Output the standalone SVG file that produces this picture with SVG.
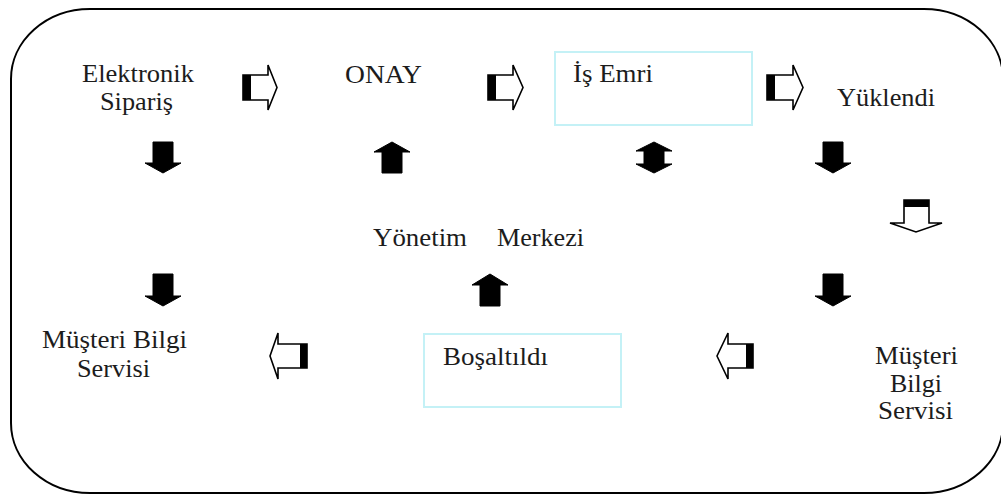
<svg xmlns="http://www.w3.org/2000/svg" width="1001" height="494" viewBox="0 0 1001 494">
<style>
.t{font-family:"Liberation Serif","Times New Roman",serif;font-size:25px;fill:#1c1c1c}
.box{fill:none;stroke:#c4f1f6;stroke-width:2}
.solid{fill:#000;stroke:#000;stroke-width:1}
.hollow{fill:#fff;stroke:#000;stroke-width:1.6;stroke-linejoin:miter}
.band{fill:#000}
</style>
<rect x="11" y="9" width="992" height="484" rx="79" ry="70" fill="#fff" stroke="#000" stroke-width="2"/>
<g id="n-elektronik"><text class="t" x="82" y="82" textLength="112" lengthAdjust="spacingAndGlyphs">Elektronik</text><text class="t" x="100" y="110" textLength="73" lengthAdjust="spacingAndGlyphs">Sipariş</text></g>
<g id="n-onay"><text class="t" x="345" y="83" textLength="77" lengthAdjust="spacingAndGlyphs">ONAY</text></g>
<g id="n-isemri"><rect class="box" x="555" y="52" width="197" height="73"/><text class="t" x="573" y="82" textLength="80" lengthAdjust="spacingAndGlyphs">İş Emri</text></g>
<g id="n-yuklendi"><text class="t" x="837" y="106" textLength="98" lengthAdjust="spacingAndGlyphs">Yüklendi</text></g>
<g id="n-yonetim"><text class="t" x="373" y="246" textLength="94" lengthAdjust="spacingAndGlyphs">Yönetim</text><text class="t" x="497" y="246" textLength="87" lengthAdjust="spacingAndGlyphs">Merkezi</text></g>
<g id="n-bosaltildi"><rect class="box" x="424" y="334" width="197" height="73"/><text class="t" x="443" y="365" textLength="105" lengthAdjust="spacingAndGlyphs">Boşaltıldı</text></g>
<g id="n-musteri-left"><text class="t" x="42" y="348" textLength="145" lengthAdjust="spacingAndGlyphs">Müşteri Bilgi</text><text class="t" x="77" y="377" textLength="73" lengthAdjust="spacingAndGlyphs">Servisi</text></g>
<g id="n-musteri-right"><text class="t" x="875" y="364" textLength="83" lengthAdjust="spacingAndGlyphs">Müşteri</text><text class="t" x="890" y="392" textLength="52" lengthAdjust="spacingAndGlyphs">Bilgi</text><text class="t" x="878" y="419" textLength="75" lengthAdjust="spacingAndGlyphs">Servisi</text></g>
<g id="connectors">
<path class="hollow" d="M243,75 H268 V65 L277,87.5 L268,110 V100 H243 Z"/><rect class="band" x="243" y="75" width="8" height="25"/>
<path class="hollow" d="M488,75 H513 V65 L523,87.5 L513,110 V100 H488 Z"/><rect class="band" x="488" y="75" width="8" height="25"/>
<path class="hollow" d="M767,75 H793 V65 L803,87.5 L793,110 V100 H767 Z"/><rect class="band" x="767" y="75" width="8" height="25"/>
<path class="solid" d="M153,142 H173 V163 H181 L163,173 L145,163 H153 Z"/>
<path class="solid" d="M823,142 H843 V163 H851 L833,173 L815,163 H823 Z"/>
<path class="solid" d="M153,274 H173 V296 H181 L163,306 L145,296 H153 Z"/>
<path class="solid" d="M823,274 H843 V296 H851 L833,306 L815,296 H823 Z"/>
<path class="solid" d="M392,142 L410,152 H402 V173 H382 V152 H374 Z"/>
<path class="solid" d="M490,274 L508,285 H500 V306 H480 V285 H472 Z"/>
<path class="solid" d="M654,142 L672,151 H664 V164 H672 L654,173 L636,164 H644 V151 H636 Z"/>
<path class="hollow" d="M904,200 H929 V223 H942 L916,232 L890,223 H904 Z"/><rect class="band" x="904" y="200" width="25" height="7"/>
<path class="hollow" d="M307,344 V368 H278 V379 L270,356 L278,333 V344 Z"/><rect class="band" x="300" y="344" width="7" height="24"/>
<path class="hollow" d="M753,344 V368 H728 V379 L717,356 L728,333 V344 Z"/><rect class="band" x="746" y="344" width="7" height="24"/>
</g>
</svg>
